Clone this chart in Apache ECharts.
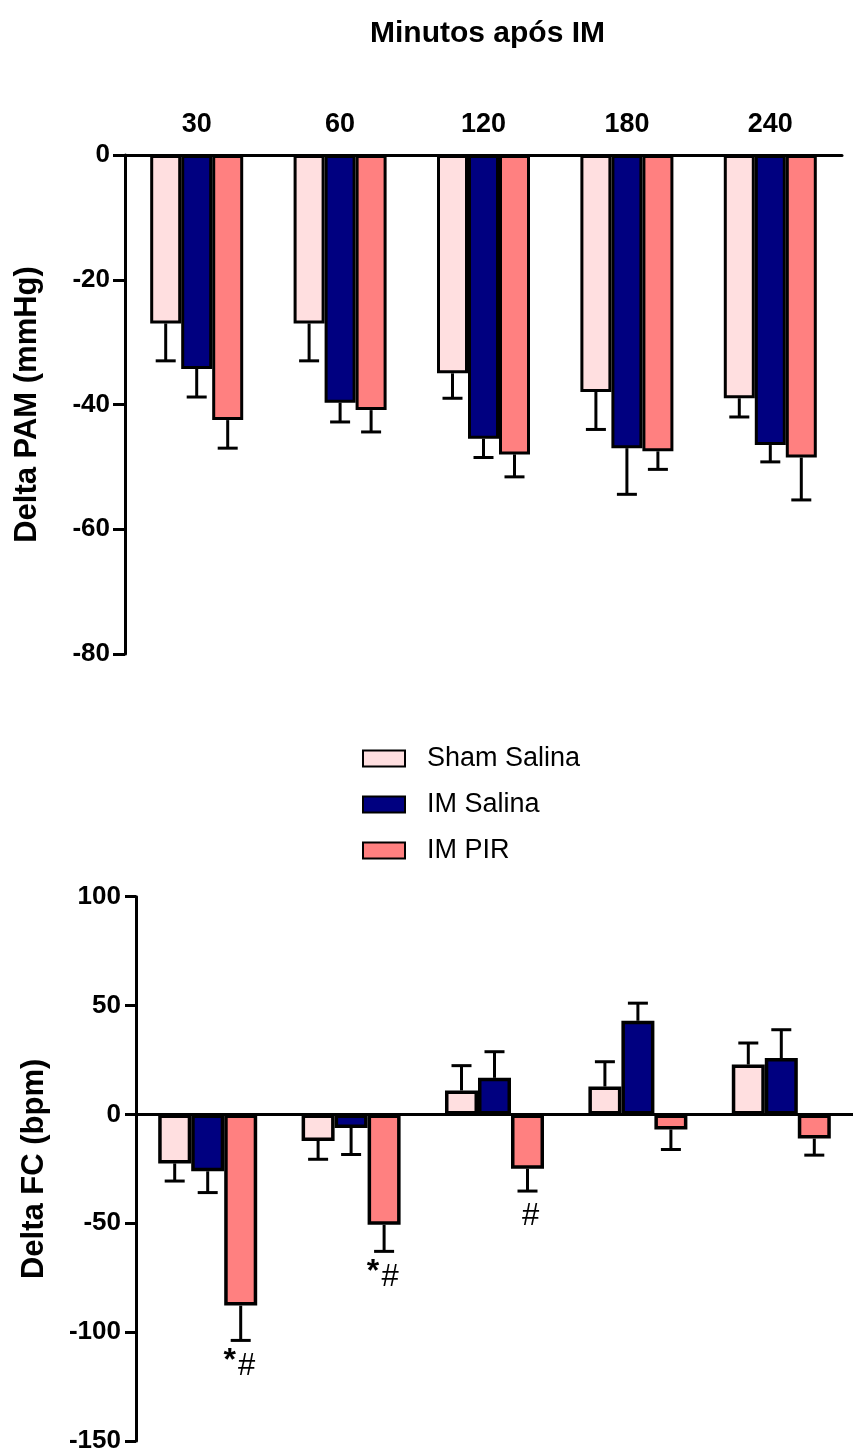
<!DOCTYPE html>
<html><head><meta charset="utf-8">
<script src="https://cdn.jsdelivr.net/npm/echarts@6/dist/echarts.min.js"></script>
<style>html,body{margin:0;padding:0;background:#fff}#c{width:853px;height:1454px}</style>
</head><body><div id="c"></div>
<script>
// ---- data ----
const categories = ['30', '60', '120', '180', '240'];
const seriesNames = ['Sham Salina', 'IM Salina', 'IM PIR'];

const pamSham = [-27, -27, -35, -38, -39];
const pamShamErr = [6, 6, 4, 6, 3];
const pamIMS = [-34.3, -39.7, -45.5, -47, -46.5];
const pamIMSErr = [4.5, 3.1, 3, 7.4, 2.7];
const pamPIR = [-42.5, -40.9, -48, -47.5, -48.5];
const pamPIRErr = [4.5, 3.5, 3.6, 2.9, 6.8];

const fcSham = [-22.5, -12.2, 11, 12.8, 22.9];
const fcShamErr = [8.1, 8.4, 11.4, 11.4, 9.9];
const fcIMS = [-26.1, -6.2, 16.8, 43, 25.9];
const fcIMSErr = [9.8, 12.2, 12, 8.1, 13];
const fcPIR = [-87.8, -50.7, -24.9, -6.9, -11.1];
const fcPIRErr = [16, 12.2, 10.3, 9.2, 7.6];
const fcPIRSig = ['*#', '*#', '#', '', ''];

const pamAxis = { min: -80, max: 0, interval: 20 };
const fcAxis = { min: -150, max: 100, interval: 50 };

// ---- style ----
const FONT = '"Liberation Sans", Arial, Helvetica, sans-serif';
const colors = ['#FFDFE0', '#000080', '#FF8080'];
const BAR_W = [31, 33];
const BORDER_W = [3, 3.5];

const chart = echarts.init(document.getElementById('c'));

function errData(vals, errs, sig) {
  return vals.map((v, i) => [i, v, v < 0 ? v - errs[i] : v + errs[i], sig ? sig[i] : '']);
}

function sigText(txt, x, y, size, weight) {
  return {
    type: 'text',
    style: { text: txt, x: x, y: y, align: 'center', verticalAlign: 'middle',
      fontSize: size, fontFamily: FONT, fontWeight: weight, fill: '#000' }
  };
}

function errSeries(gridIdx, groupIdx, vals, errs, sig) {
  const bw = BAR_W[gridIdx];
  return {
    type: 'custom',
    xAxisIndex: gridIdx, yAxisIndex: gridIdx,
    z: 5, clip: false, silent: true,
    data: errData(vals, errs, sig),
    encode: { x: 0, y: [1, 2] },
    renderItem: function (params, api) {
      const s = api.coord([api.value(0), api.value(1)]);
      const e = api.coord([api.value(0), api.value(2)]);
      const cx = s[0] + (groupIdx - 1) * bw;
      const st = { stroke: '#000', lineWidth: 3 };
      const children = [
        { type: 'line', shape: { x1: cx, y1: s[1], x2: cx, y2: e[1] }, style: st },
        { type: 'line', shape: { x1: cx - 10, y1: e[1], x2: cx + 10, y2: e[1] }, style: st }
      ];
      const sg = api.value(3);
      if (sg && typeof sg === 'string') {
        if (sg.indexOf('*') >= 0) {
          children.push(sigText('*', cx - 11, e[1] + 21, 32, 'bold'));
          children.push(sigText('#', cx + 6, e[1] + 26, 31, 'normal'));
        } else {
          children.push(sigText('#', cx + 3, e[1] + 25, 31, 'normal'));
        }
      }
      return { type: 'group', children: children };
    }
  };
}

function barSeries(gridIdx, groupIdx, vals) {
  return {
    name: seriesNames[groupIdx], type: 'bar',
    xAxisIndex: gridIdx, yAxisIndex: gridIdx,
    barWidth: BAR_W[gridIdx], barGap: '0%',
    data: vals,
    itemStyle: { color: colors[groupIdx], borderColor: '#000', borderWidth: BORDER_W[gridIdx] }
  };
}

const yLabel = { color: '#000', fontFamily: FONT, fontWeight: 'bold', fontSize: 26, margin: 15 };
const axisLine = { show: true, lineStyle: { color: '#000', width: 3 } };

chart.setOption({
  animation: false,
  backgroundColor: '#fff',
  title: {
    text: 'Minutos após IM', left: 365, top: 14,
    textStyle: { fontFamily: FONT, fontWeight: 'bold', fontSize: 30, color: '#000' }
  },
  legend: {
    orient: 'vertical', left: 357, top: 740,
    itemWidth: 42, itemHeight: 16, itemGap: 19,
    icon: 'rect',
    data: seriesNames,
    selectedMode: false,
    textStyle: { fontFamily: FONT, fontSize: 27, color: '#000', lineHeight: 26, padding: [0, 0, 0, 17] }
  },
  grid: [
    { left: 125, top: 155, width: 717, height: 499, containLabel: false },
    { left: 136, top: 896.7, width: 722, height: 546.6, containLabel: false }
  ],
  xAxis: [
    {
      type: 'category', gridIndex: 0, data: categories, position: 'top',
      axisLine: { show: true, onZero: false, lineStyle: { color: '#000', width: 3 } },
      axisTick: { show: false },
      axisLabel: { color: '#000', fontFamily: FONT, fontWeight: 'bold', fontSize: 27, margin: 17 }
    },
    {
      type: 'category', gridIndex: 1, data: categories,
      axisLine: { show: true, onZero: true, lineStyle: { color: '#000', width: 3 } },
      axisTick: { show: false },
      axisLabel: { show: false }
    }
  ],
  yAxis: [
    {
      type: 'value', gridIndex: 0, min: pamAxis.min, max: pamAxis.max, interval: pamAxis.interval,
      name: 'Delta PAM (mmHg)', nameLocation: 'middle', nameGap: 82,
      nameTextStyle: { color: '#000', fontFamily: FONT, fontWeight: 'bold', fontSize: 31 },
      axisLine: axisLine,
      axisTick: { show: true, length: 12, lineStyle: { color: '#000', width: 3 } },
      axisLabel: yLabel,
      splitLine: { show: false }
    },
    {
      type: 'value', gridIndex: 1, min: fcAxis.min, max: fcAxis.max, interval: fcAxis.interval,
      name: 'Delta FC (bpm)', nameLocation: 'middle', nameGap: 86,
      nameTextStyle: { color: '#000', fontFamily: FONT, fontWeight: 'bold', fontSize: 31 },
      axisLine: axisLine,
      axisTick: { show: true, length: 11, lineStyle: { color: '#000', width: 3 } },
      axisLabel: yLabel,
      splitLine: { show: false }
    }
  ],
  series: [
    barSeries(0, 0, pamSham), barSeries(0, 1, pamIMS), barSeries(0, 2, pamPIR),
    barSeries(1, 0, fcSham), barSeries(1, 1, fcIMS), barSeries(1, 2, fcPIR),
    errSeries(0, 0, pamSham, pamShamErr), errSeries(0, 1, pamIMS, pamIMSErr), errSeries(0, 2, pamPIR, pamPIRErr),
    errSeries(1, 0, fcSham, fcShamErr), errSeries(1, 1, fcIMS, fcIMSErr), errSeries(1, 2, fcPIR, fcPIRErr, fcPIRSig)
  ]
});
</script>
</body></html>
